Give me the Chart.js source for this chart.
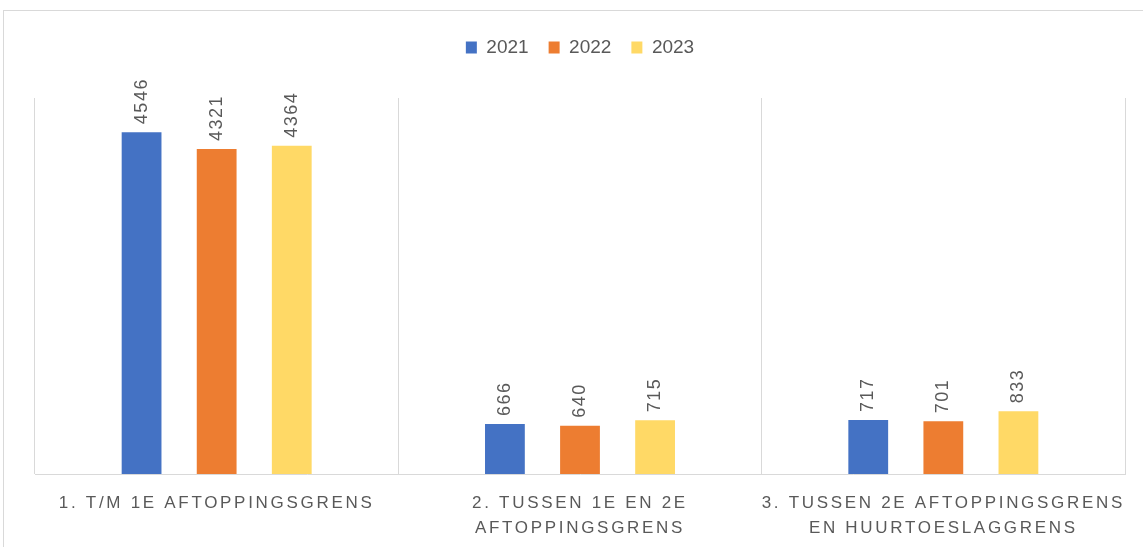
<!DOCTYPE html>
<html>
<head>
<meta charset="utf-8">
<script src="https://cdn.jsdelivr.net/npm/chart.js@4/dist/chart.umd.min.js"></script>
<style>
  html, body { margin: 0; padding: 0; background: #fff; overflow: hidden; }
  #frame { position: absolute; left: 3px; top: 10px; width: 1200px; height: 600px; border-top: 1px solid #d9d9d9; border-left: 1px solid #d9d9d9; }
  #wrap { position: absolute; left: 0; top: 0; width: 1143px; height: 547px; }
</style>
</head>
<body>
<div id="frame"></div>
<div id="wrap"><canvas id="chart"></canvas></div>
<script>
const categories = [
  ['1. T/M 1E AFTOPPINGSGRENS'],
  ['2. TUSSEN 1E EN 2E', 'AFTOPPINGSGRENS'],
  ['3. TUSSEN 2E AFTOPPINGSGRENS', 'EN HUURTOESLAGGRENS']
];
const years = ['2021', '2022', '2023'];
const values2021 = [4546, 666, 717];
const values2022 = [4321, 640, 701];
const values2023 = [4364, 715, 833];
const colors = ['#4472c4', '#ed7d31', '#ffd966'];

const textGray = '#595959';

// rotated value labels above each bar
const barLabels = {
  id: 'barLabels',
  afterDatasetsDraw(chart) {
    const ctx = chart.ctx;
    chart.data.datasets.forEach((ds, i) => {
      const meta = chart.getDatasetMeta(i);
      meta.data.forEach((bar, j) => {
        ctx.save();
        ctx.letterSpacing = '1.5px';
        ctx.translate(bar.x, bar.y - 8);
        ctx.rotate(-Math.PI / 2);
        ctx.font = '18px "Liberation Sans"';
        ctx.fillStyle = textGray;
        ctx.textAlign = 'left';
        ctx.textBaseline = 'middle';
        ctx.fillText(String(ds.data[j]), 0, 0);
        ctx.restore();
      });
    });
    // spaced capitals for the category labels drawn after this
    ctx.letterSpacing = '2.7px';
  },
  afterDraw(chart) {
    chart.ctx.letterSpacing = '0px';
  }
};

// extra room under the legend
const legendSpace = {
  id: 'legendSpace',
  beforeInit(chart) {
    const fit = chart.legend.fit;
    chart.legend.fit = function () {
      fit.bind(chart.legend)();
      this.height += 31;
    };
  }
};

const ctx = document.getElementById('chart').getContext('2d');

new Chart(ctx, {
  type: 'bar',
  data: {
    labels: categories,
    datasets: [
      { label: years[0], data: values2021, backgroundColor: colors[0] },
      { label: years[1], data: values2022, backgroundColor: colors[1] },
      { label: years[2], data: values2023, backgroundColor: colors[2] }
    ]
  },
  options: {
    responsive: true,
    maintainAspectRatio: false,
    animation: false,
    categoryPercentage: 0.62,
    barPercentage: 0.53,
    layout: {
      padding: { left: 35, right: 18, top: 18, bottom: 0 }
    },
    plugins: {
      legend: {
        position: 'top',
        labels: {
          boxWidth: 11,
          boxHeight: 12,
          padding: 20,
          color: textGray,
          font: { family: '"Liberation Sans"', size: 19 }
        }
      },
      tooltip: { enabled: false }
    },
    scales: {
      x: {
        afterFit(scale) {
          scale.height = 73;
        },
        grid: { color: '#d9d9d9', drawTicks: false, offset: true },
        border: { color: '#d9d9d9' },
        ticks: {
          z: 1,
          padding: 17,
          color: textGray,
          maxRotation: 0,
          autoSkip: false,
          font: { family: '"Liberation Sans"', size: 17, lineHeight: 1.47 }
        }
      },
      y: {
        display: false,
        min: 0,
        max: 5000
      }
    }
  },
  plugins: [barLabels, legendSpace]
});
</script>
</body>
</html>
